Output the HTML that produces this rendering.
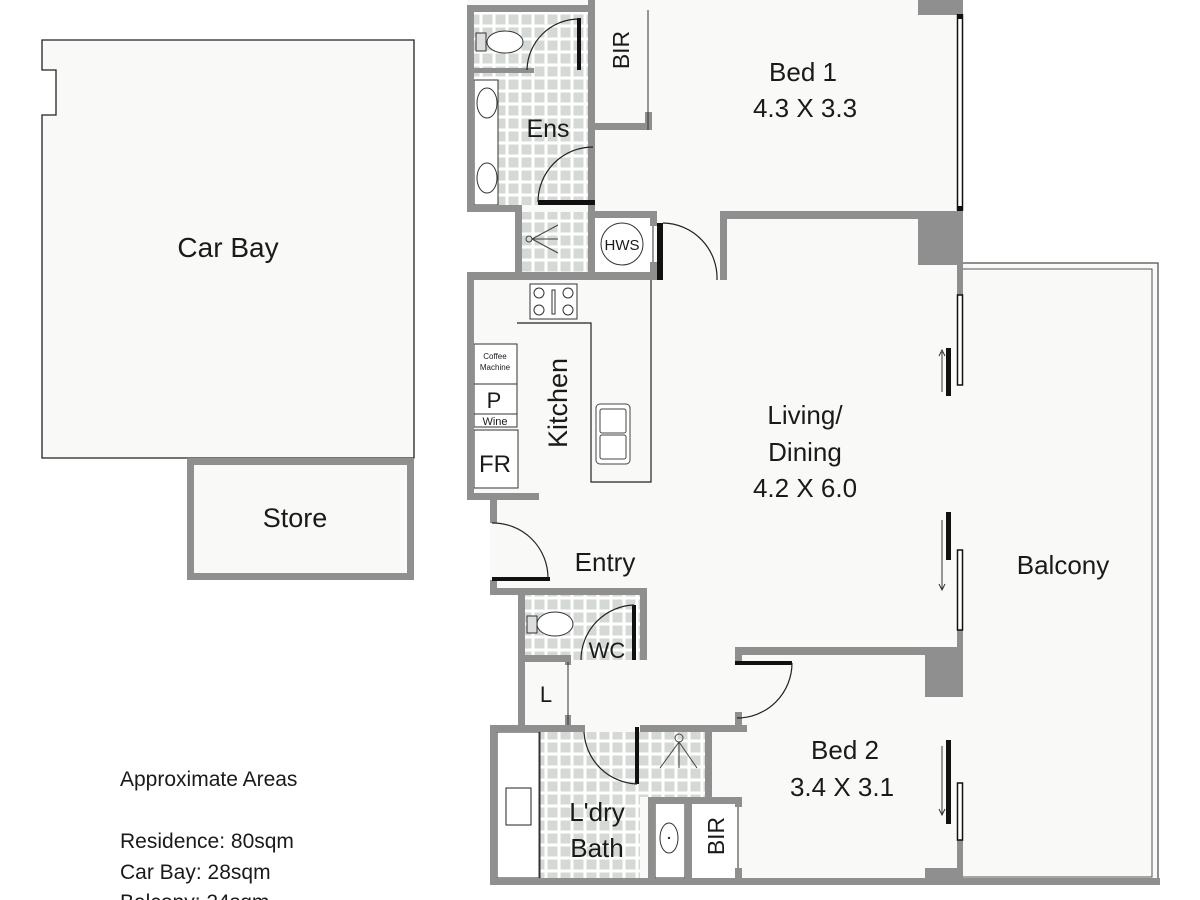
<!DOCTYPE html>
<html><head><meta charset="utf-8"><style>
html,body{margin:0;padding:0;background:#fff;}
svg{display:block;}
text{font-family:"Liberation Sans",sans-serif;fill:#1a1a1a;}
</style></head><body>
<svg width="1200" height="900" viewBox="0 0 1200 900" xmlns="http://www.w3.org/2000/svg">
<defs>
<pattern id="tile" width="13" height="13" patternUnits="userSpaceOnUse">
<rect width="13" height="13" fill="#fff"/>
<rect x="1.5" y="1.5" width="10" height="10" fill="#d5d9d5"/>
</pattern>
</defs>
<rect width="1200" height="900" fill="#fff"/>

<path d="M42 40 H414 V458 H42 V115 H56 V70 H42 Z" fill="#f9f9f7" stroke="#222" stroke-width="1.3"/>
<rect x="190.5" y="461.5" width="220" height="115" fill="#f9f9f7" stroke="#8f8f8f" stroke-width="7"/>
<text x="228" y="257" font-size="28" text-anchor="middle">Car Bay</text>
<text x="295" y="527" font-size="27" text-anchor="middle">Store</text>

<rect x="960" y="263" width="198" height="620" fill="#f9f9f7" stroke="#555" stroke-width="1.3"/>
<rect x="960" y="269" width="192" height="608" fill="none" stroke="#555" stroke-width="1"/>

<path d="M467 0 H963 V885 H490 V725 H518 V595 H490 V500 H467 V272 H515 V212 H467 Z" fill="#f9f9f7"/>

<rect x="474" y="12" width="114" height="193" fill="url(#tile)"/>
<rect x="522" y="212" width="66" height="60" fill="url(#tile)"/>
<rect x="525" y="595" width="115" height="65" fill="url(#tile)"/>
<rect x="540" y="732" width="100" height="146" fill="url(#tile)"/>
<rect x="640" y="732" width="65" height="65" fill="url(#tile)"/>

<rect x="474" y="80" width="24" height="125" fill="#fff" stroke="#333" stroke-width="1"/>
<ellipse cx="487" cy="103" rx="10" ry="15" fill="#fff" stroke="#333"/>
<ellipse cx="487" cy="178" rx="10" ry="15" fill="#fff" stroke="#333"/>
<ellipse cx="505" cy="42" rx="18" ry="11" fill="#fff" stroke="#333"/>
<rect x="476" y="33" width="10" height="18" fill="#ddd" stroke="#333"/>
<g stroke="#444" stroke-width="1" fill="none"><circle cx="529" cy="239" r="3"/><line x1="532" y1="239" x2="558" y2="225"/><line x1="532" y1="239" x2="558" y2="239"/><line x1="532" y1="239" x2="558" y2="253"/></g>
<rect x="595" y="218" width="60" height="54" fill="#fff"/>
<circle cx="622" cy="244" r="21" fill="#fff" stroke="#333"/>
<text x="622" y="250" font-size="15" text-anchor="middle">HWS</text>

<rect x="474" y="280" width="178" height="213" fill="#f9f9f7"/>
<rect x="530" y="284" width="47" height="35" fill="#fff" stroke="#333"/>
<g fill="none" stroke="#333"><circle cx="539" cy="293" r="5"/><circle cx="568" cy="293" r="5"/><circle cx="539" cy="310" r="5"/><circle cx="568" cy="310" r="5"/><rect x="552" y="290" width="3" height="24"/></g>
<path d="M517 323 H591 V482 H651 V280" fill="none" stroke="#222" stroke-width="1.2"/>
<rect x="474" y="344" width="43" height="40" fill="#fff" stroke="#333"/>
<text x="495" y="359" font-size="8" text-anchor="middle">Coffee</text>
<text x="495" y="370" font-size="8" text-anchor="middle">Machine</text>
<rect x="474" y="384" width="43" height="30" fill="#fff" stroke="#333"/>
<text x="494" y="408" font-size="22" text-anchor="middle">P</text>
<rect x="474" y="414" width="43" height="13" fill="#fff" stroke="#333"/>
<text x="495" y="425" font-size="11" text-anchor="middle">Wine</text>
<rect x="474" y="430" width="44" height="58" fill="#fff" stroke="#333"/>
<text x="495" y="472" font-size="24" text-anchor="middle">FR</text>
<rect x="596" y="404" width="34" height="60" rx="4" fill="#fff" stroke="#444"/>
<rect x="600" y="409" width="26" height="24" rx="2" fill="none" stroke="#444"/>
<rect x="600" y="435" width="26" height="24" rx="2" fill="none" stroke="#444"/>
<text x="567" y="403" font-size="27" text-anchor="middle" transform="rotate(-90 567 403)">Kitchen</text>

<ellipse cx="555" cy="624" rx="18" ry="12" fill="#fff" stroke="#333"/>
<rect x="527" y="616" width="10" height="17" fill="#ddd" stroke="#333"/>
<rect x="497" y="732" width="43" height="146" fill="#fff" stroke="#333"/>
<rect x="506" y="788" width="25" height="37" fill="#fff" stroke="#222"/>
<rect x="655" y="803" width="30" height="75" fill="#fff" stroke="#333"/>
<ellipse cx="669" cy="838" rx="9" ry="15" fill="#fff" stroke="#333"/>
<circle cx="669" cy="838" r="1.2" fill="#333"/>
<g stroke="#444" fill="none"><circle cx="679" cy="738" r="4"/><line x1="679" y1="742" x2="660" y2="768"/><line x1="679" y1="742" x2="679" y2="768"/><line x1="679" y1="742" x2="697" y2="768"/></g>
<rect x="692" y="803" width="45" height="75" fill="#fff"/>

<g fill="#8f8f8f">
<rect x="467" y="5" width="128" height="7"/>
<rect x="467" y="5" width="7" height="207"/>
<rect x="474" y="68" width="60" height="5"/>
<rect x="588" y="0" width="7" height="205"/>
<rect x="588" y="123" width="64" height="7"/>
<rect x="645" y="112" width="7" height="18"/>
<rect x="467" y="205" width="55" height="7"/>
<rect x="515" y="205" width="7" height="75"/>
<rect x="588" y="205" width="7" height="75"/>
<rect x="588" y="211" width="67" height="7"/>
<rect x="650" y="211" width="7" height="15"/>
<rect x="650" y="262" width="7" height="18"/>
<rect x="720" y="211" width="243" height="8"/>
<rect x="720" y="211" width="7" height="69"/>
<rect x="918" y="211" width="45" height="54"/>
<rect x="918" y="0" width="45" height="15"/>
<rect x="957" y="265" width="6" height="30"/>
<rect x="467" y="272" width="190" height="8"/>
<rect x="467" y="272" width="7" height="228"/>
<rect x="467" y="493" width="72" height="7"/>
<rect x="490" y="500" width="7" height="23"/>
<rect x="490" y="580" width="7" height="15"/>
<rect x="490" y="588" width="157" height="7"/>
<rect x="518" y="588" width="7" height="144"/>
<rect x="640" y="588" width="7" height="72"/>
<rect x="518" y="655" width="50" height="7"/>
<rect x="565" y="655" width="6" height="10"/>
<rect x="565" y="715" width="6" height="17"/>
<rect x="490" y="725" width="95" height="7"/>
<rect x="490" y="725" width="7" height="160"/>
<rect x="640" y="725" width="107" height="7"/>
<rect x="735" y="712" width="7" height="20"/>
<rect x="735" y="647" width="228" height="8"/>
<rect x="735" y="647" width="7" height="14"/>
<rect x="925" y="647" width="38" height="50"/>
<rect x="705" y="725" width="7" height="78"/>
<rect x="648" y="797" width="94" height="7"/>
<rect x="648" y="797" width="7" height="88"/>
<rect x="685" y="797" width="7" height="88"/>
<rect x="735" y="797" width="7" height="10"/>
<rect x="735" y="868" width="7" height="17"/>
<rect x="490" y="878" width="670" height="7"/>
<rect x="957" y="630" width="6" height="30"/>
<rect x="957" y="840" width="6" height="45"/>
<rect x="925" y="868" width="38" height="10"/>
</g>
<line x1="539" y1="732" x2="539" y2="878" stroke="#333"/>
<line x1="648" y1="130" x2="648" y2="10" stroke="#333"/>
<line x1="568" y1="662" x2="568" y2="725" stroke="#333"/>
<line x1="738" y1="807" x2="738" y2="868" stroke="#333"/>
<line x1="653" y1="226" x2="653" y2="262" stroke="#333"/>

<g fill="#111">
<rect x="577" y="18" width="4" height="52"/>
<rect x="538" y="200" width="57" height="5"/>
<rect x="657" y="223" width="6" height="57"/>
<rect x="492" y="577" width="58" height="4"/>
<rect x="632" y="605" width="4" height="55"/>
<rect x="635" y="727" width="4" height="57"/>
<rect x="735" y="661" width="57" height="4"/>
</g>
<g fill="none" stroke="#222" stroke-width="1.2">
<path d="M579 19 A52 52 0 0 0 527 70"/>
<path d="M593 147 A55 55 0 0 0 538 202"/>
<path d="M663 223 A55 55 0 0 1 717 280"/>
<path d="M492 523 A55 55 0 0 1 548 578"/>
<path d="M634 605 A55 55 0 0 0 581 660"/>
<path d="M584 732 A55 55 0 0 0 637 784"/>
<path d="M792 663 A55 55 0 0 1 737 718"/>
</g>

<g fill="#fff" stroke="#111" stroke-width="1.5">
<rect x="957.5" y="15" width="5" height="195"/>
<rect x="957.5" y="295" width="5" height="90"/>
<rect x="957.5" y="550" width="5" height="80"/>
<rect x="957.5" y="783" width="5" height="57"/>
</g>
<rect x="957" y="14" width="6" height="5" fill="#111"/>
<rect x="957" y="206" width="6" height="5" fill="#111"/>
<g fill="#111">
<rect x="946" y="348" width="5" height="48"/>
<rect x="946" y="512" width="5" height="48"/>
<rect x="946" y="740" width="5" height="84"/>
</g>
<g stroke="#333" stroke-width="1" fill="none">
<line x1="942" y1="352" x2="942" y2="392"/><path d="M939 356 L942 350 L945 356"/>
<line x1="942" y1="520" x2="942" y2="590"/><path d="M939 584 L942 590 L945 584"/>
<line x1="942" y1="746" x2="942" y2="815"/><path d="M939 809 L942 815 L945 809"/>
</g>

<text x="803" y="81" font-size="26" text-anchor="middle">Bed 1</text>
<text x="805" y="117" font-size="26" text-anchor="middle">4.3 X 3.3</text>
<text x="805" y="424" font-size="26" text-anchor="middle">Living/</text>
<text x="805" y="461" font-size="26" text-anchor="middle">Dining</text>
<text x="805" y="497" font-size="26" text-anchor="middle">4.2 X 6.0</text>
<text x="1063" y="574" font-size="26" text-anchor="middle">Balcony</text>
<text x="605" y="571" font-size="26" text-anchor="middle">Entry</text>
<text x="845" y="759" font-size="26" text-anchor="middle">Bed 2</text>
<text x="842" y="796" font-size="26" text-anchor="middle">3.4 X 3.1</text>
<text x="548" y="137" font-size="25" text-anchor="middle">Ens</text>
<text x="629" y="50" font-size="23" text-anchor="middle" transform="rotate(-90 629 50)">BIR</text>
<text x="724" y="836" font-size="23" text-anchor="middle" transform="rotate(-90 724 836)">BIR</text>
<text x="607" y="658" font-size="22" text-anchor="middle">WC</text>
<text x="546" y="702" font-size="22" text-anchor="middle">L</text>
<text x="597" y="821" font-size="26" text-anchor="middle">L'dry</text>
<text x="597" y="857" font-size="26" text-anchor="middle">Bath</text>

<text x="120" y="786" font-size="21">Approximate Areas</text>
<text x="120" y="848" font-size="21">Residence: 80sqm</text>
<text x="120" y="879" font-size="21">Car Bay: 28sqm</text>
<text x="120" y="909" font-size="21">Balcony: 24sqm</text>
</svg>
</body></html>
